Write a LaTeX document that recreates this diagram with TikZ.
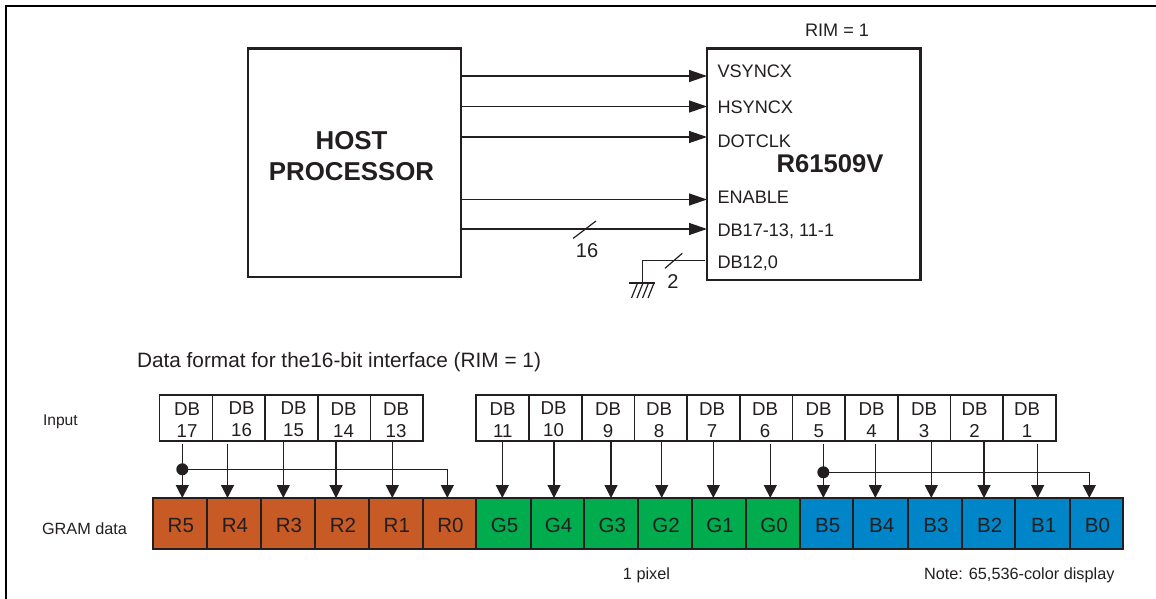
\documentclass[tikz,border=0pt]{standalone}
\usepackage{fontspec}
\setmainfont{Liberation Sans}
\usetikzlibrary{arrows.meta}
\definecolor{rcol}{HTML}{C85A26}
\definecolor{gcol}{HTML}{00AC4E}
\definecolor{bcol}{HTML}{0085C8}
\definecolor{ink}{HTML}{231F20}
\tikzset{
  x=0.75pt,y=-0.75pt,
  frameline/.style={line width=1.6pt,black},
  blockbox/.style={draw=ink,line width=1.7pt,fill=white,inner sep=0pt,outer sep=0pt,anchor=north west},
  sig/.style={draw=ink,line width=1pt,-{Triangle[length=13.5pt,width=9pt]}},
  thinsig/.style={draw=ink,line width=0.9pt,-{Triangle[length=9.75pt,width=9.75pt]}},
  wire/.style={draw=ink,line width=0.9pt},
  txt/.style={text=ink,font=\fontsize{13.6}{16}\selectfont,inner sep=0pt,outer sep=0pt},
  small/.style={txt,font=\fontsize{12.2}{14}\selectfont},
  pin/.style={txt,anchor=base west},
  inbox/.style={draw=ink,line width=1.25pt,fill=white,minimum height=34.5pt,inner sep=0pt,outer sep=0pt,anchor=north west},
  dbtext/.style={text=ink,font=\fontsize{14}{16.5}\selectfont,inner sep=0pt,outer sep=0pt,align=center},
  cell/.style={draw=ink,line width=1.25pt,minimum width=40.5pt,minimum height=38.25pt,inner sep=0pt,outer sep=0pt,anchor=north west,text=ink,font=\fontsize{15.4}{18}\selectfont},
  dot/.style={circle,fill=ink,minimum size=9pt,inner sep=0pt,outer sep=0pt},
}
\newcommand{\inb}[6]{\node[inbox,minimum width=#3*0.75pt] (#1) at (#2,395) {};
  \node[dbtext] (#1t) at (#5,#6) {DB\\#4};}
\begin{document}
\begin{tikzpicture}
\useasboundingbox (0,0) rectangle (1156,599);
\coordinate (fa) at (1156,6); \coordinate (fb) at (6,6); \coordinate (fc) at (6,599);
\draw[frameline] (fa) -- (fb) -- (fc);
% top blocks
\node[blockbox,minimum width=213pt*0.75,minimum height=228.5pt*0.75] (host) at (248,48.5) {};
\node[text=ink,font=\fontsize{19.4}{23.2}\selectfont\bfseries,align=center,inner sep=0pt] (hostt) at (351.5,156.5) {HOST\\PROCESSOR};
\node[blockbox,minimum width=213.5pt*0.75,minimum height=231.5pt*0.75] (chip) at (707,48.5) {};
\node[txt] (rim) at (837,30) {RIM = 1};
\node[txt,font=\fontsize{19.2}{23}\selectfont\bfseries] (name) at (830,164) {R61509V};
\foreach \n/\y/\t in {a/78/VSYNCX,b/113.5/HSYNCX,c/147/DOTCLK,d/203.5/ENABLE,e/236/DB17-13{,} 11-1,f/268/DB12{,}0}{
  \node[pin] (\n) at (717.5,\y) {\t};
}
\foreach \n/\y in {a/76,b/106.5,c/137,d/199.5,e/229,f/260.5}{
  \coordinate (\n E) at (chip.west |- 0,\y);
  \coordinate (\n W) at (host.east |- 0,\y);
}
\foreach \n in {a,b,c,d,e} \draw[sig] (\n W) -- (\n E);
\coordinate (s1a) at (573,238.5); \coordinate (s1b) at (596,221);
\draw[wire] (s1a) -- (s1b);
\node[txt,font=\fontsize{15}{18}\selectfont] (n16) at (587,250.5) {16};
% ground
\coordinate (gt) at (642.7,283);
\coordinate (gc) at (642.7,260.5);
\coordinate (gw) at (705,260.5);
\draw[wire] (gw) -- (gc) -- (gt);
\coordinate (gl) at (629,283); \coordinate (gr) at (655,283);
\draw[wire] (gl) -- (gr);
\foreach \i in {0,1,2,3} \draw[wire] (637.5+\i*5.5,283) -- (631.5+\i*5.5,298);
\coordinate (s2a) at (665,268.3); \coordinate (s2b) at (682.3,253.3);
\draw[wire] (s2a) -- (s2b);
\node[txt,font=\fontsize{15}{18}\selectfont] (n2) at (673,282) {2};
% headings
\node[txt,anchor=base west,font=\fontsize{15.6}{18}\selectfont] (head) at (137,367) {Data format for the16-bit interface (RIM = 1)};
\node[txt,anchor=base west,font=\fontsize{11.7}{14}\selectfont] (input) at (43,425) {Input};
\node[small,anchor=base west] (gram) at (42,534) {GRAM data};
\node[small,anchor=base] (pix) at (646.5,579) {1 pixel};
\node[small,anchor=base west] (note) at (924,579) {Note: 65,536-color display};
% input boxes
\inb{i17}{159.5}{53}{17}{187}{420.5}
\inb{i16}{212.5}{52.5}{16}{241.5}{419.5}
\inb{i15}{265}{53}{15}{293.5}{419.5}
\inb{i14}{318}{52.5}{14}{343.5}{420.5}
\inb{i13}{370.5}{52.5}{13}{396}{420.5}
\inb{i11}{475.7}{53}{11}{502.7}{420.5}
\inb{i10}{528.7}{53.3}{10}{553.5}{419.5}
\inb{i9}{582}{52.5}{9}{608}{420.5}
\inb{i8}{634.5}{52.5}{8}{659}{420.5}
\inb{i7}{687}{53}{7}{712}{420.5}
\inb{i6}{740}{52.4}{6}{765}{420.5}
\inb{i5}{792.4}{52.6}{5}{818.7}{420.5}
\inb{i4}{845}{53}{4}{871.5}{420.5}
\inb{i3}{898}{52.5}{3}{924}{420.5}
\inb{i2}{950.5}{52.5}{2}{974.5}{420.5}
\inb{i1}{1003}{52.7}{1}{1027}{420.5}
% cells
\foreach \n/\x/\w/\t/\c in {
 r5/152.7/54.3/R5/rcol,r4/207/54/R4/rcol,r3/261/54/R3/rcol,r2/315/54/R2/rcol,r1/369/53.7/R1/rcol,r0/422.7/53.6/R0/rcol,
 g5/476.3/54.7/G5/gcol,g4/531/53.3/G4/gcol,g3/584.3/54/G3/gcol,g2/638.3/53.7/G2/gcol,g1/692/54/G1/gcol,g0/746/54/G0/gcol,
 b5/800/53.3/B5/bcol,b4/853.3/54.7/B4/bcol,b3/908/54/B3/bcol,b2/962/53.3/B2/bcol,b1/1015.3/54.7/B1/bcol,b0/1070/53/B0/bcol}{
  \node[cell,fill=\c,minimum width=\w*0.75pt,text height=11pt,text depth=0pt] (\n) at (\x,498) {\raisebox{-1.1pt}{\hspace{1.5pt}\t}};
}
% connectors
\foreach \x/\s/\ys/\e in {
 227.5/i16/444/r4,283.3/i15/442/r3,336/i14/442/r2,392.3/i13/442/r1,
 502.3/i11/442/g5,554/i10/442/g4,611/i9/442/g3,661.7/i8/442/g2,713.3/i7/442/g1,770.3/i6/444/g0,
 875.3/i4/444/b4,931.3/i3/442/b3,984/i2/442/b2,1037.7/i1/444/b1}{
  \draw[thinsig] (\x,\ys) -- (\x,0 |- \e.north);
}
\node[dot] (d1) at (182.3,469.3) {};
\draw[thinsig] (182.3,444) -- (182.3,0 |- r5.north);
\draw[thinsig] (d1.center) -- (447.3,469.3) -- (447.3,0 |- r0.north);
\node[dot] (d2) at (823.3,472.3) {};
\draw[thinsig] (823.3,444) -- (823.3,0 |- b5.north);
\draw[thinsig] (d2.center) -- (1089.3,472.3) -- (1089.3,0 |- b0.north);
\end{tikzpicture}
\end{document}
